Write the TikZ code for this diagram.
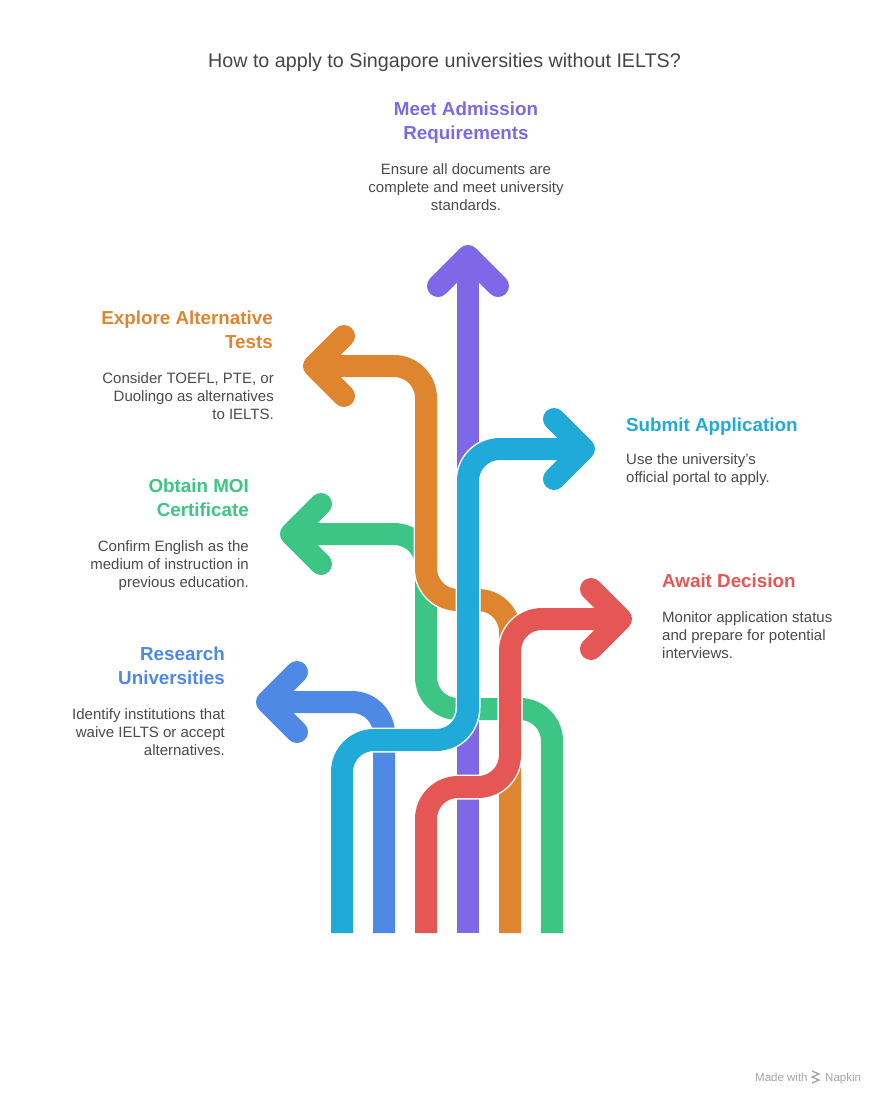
\documentclass[tikz,border=0pt]{standalone}
\usepackage{fontspec}
\setmainfont{Liberation Sans}
\usetikzlibrary{calc}

\definecolor{purp}{HTML}{7E68E8}
\definecolor{orng}{HTML}{DF8530}
\definecolor{grn}{HTML}{3CC584}
\definecolor{blu}{HTML}{4E89E5}
\definecolor{cyn}{HTML}{1FAADA}
\definecolor{rd}{HTML}{E45755}
\definecolor{ttl}{HTML}{454545}
\definecolor{txt}{HTML}{4A4A4A}

% one ribbon: white casing first, then the coloured band
\newcommand{\ribbon}[3]{%
  \draw[casing, rounded corners=32pt] #2;
  \draw[casing, line cap=round] #3;
  \draw[band, rounded corners=32pt, draw=#1] #2;
  \draw[band, line cap=round, draw=#1] #3;}

\begin{document}
\begin{tikzpicture}[x=1pt, y=-1pt,
    casing/.style={draw=white, line width=25pt, line cap=butt, line join=round},
    band/.style={line width=22pt, line cap=butt, line join=round},
    head/.style={inner sep=0pt, font=\fontsize{18.8}{24}\selectfont\bfseries},
    desc/.style={inner sep=0pt, text=txt, font=\fontsize{15}{18}\selectfont},
    credit/.style={inner sep=0pt, text=black!35, font=\fontsize{11.5}{14}\selectfont}]

    \useasboundingbox (0,0) rectangle (888,1104);

    % Title
    \node[inner sep=0pt, anchor=north, text=ttl, font=\fontsize{19.7}{24}\selectfont] (title) at (444.5,53) {How to apply to Singapore universities without IELTS?};

    % Lane bottoms and arrow tips
    \coordinate (cynB) at (342,933);
    \coordinate (bluB) at (384,933);
    \coordinate (rdB) at (426,933);
    \coordinate (purpB) at (468,933);
    \coordinate (orngB) at (510,933);
    \coordinate (grnB) at (552,933);
    \coordinate (purpT) at (468,256);
    \coordinate (orngT) at (314,366);
    \coordinate (grnT) at (291,534);
    \coordinate (bluT) at (267,702);
    \coordinate (cynT) at (584,449);
    \coordinate (rdT) at (621,619);

    % Ribbons, back to front
    \ribbon{purp}{(purpB) -- (purpT)}{($(purpT)+(-30,30)$) -- (purpT) -- ($(purpT)+(30,30)$)}
    \ribbon{grn}{(grnB) -- (552,709) -- (426,709) -- (426,534) -- (grnT)}{($(grnT)+(30,-30)$) -- (grnT) -- ($(grnT)+(30,30)$)}
    \ribbon{orng}{(orngB) -- (510,600) -- (426,600) -- (426,366) -- (orngT)}{($(orngT)+(30,-30)$) -- (orngT) -- ($(orngT)+(30,30)$)}
    \ribbon{blu}{(bluB) -- (384,702) -- (bluT)}{($(bluT)+(30,-30)$) -- (bluT) -- ($(bluT)+(30,30)$)}
    \ribbon{cyn}{(cynB) -- (342,740) -- (468,740) -- (468,449) -- (cynT)}{($(cynT)+(-30,-30)$) -- (cynT) -- ($(cynT)+(-30,30)$)}
    \ribbon{rd}{(rdB) -- (426,787) -- (510,787) -- (510,619) -- (rdT)}{($(rdT)+(-30,-30)$) -- (rdT) -- ($(rdT)+(-30,30)$)}

    % Meet Admission Requirements
    \node[head, text=purp, anchor=north, align=center] (meet) at (466,102) {Meet Admission\\Requirements};
    \node[desc, anchor=north, align=center] (meetd) at (466,163) {Ensure all documents are\\complete and meet university\\standards.};

    % Explore Alternative Tests
    \node[head, text=orng, anchor=north east, align=right] (tests) at (273,311) {Explore Alternative\\Tests};
    \node[desc, anchor=north east, align=right] (testsd) at (274,372) {Consider TOEFL, PTE, or\\Duolingo as alternatives\\to IELTS.};

    % Obtain MOI Certificate
    \node[head, text=grn, anchor=north east, align=right] (moi) at (249,479) {Obtain MOI\\Certificate};
    \node[desc, anchor=north east, align=right] (moid) at (249,540) {Confirm English as the\\medium of instruction in\\previous education.};

    % Research Universities
    \node[head, text=blu, anchor=north east, align=right] (research) at (225,647) {Research\\Universities};
    \node[desc, anchor=north east, align=right] (researchd) at (225,708) {Identify institutions that\\waive IELTS or accept\\alternatives.};

    % Submit Application
    \node[head, text=cyn, anchor=north west, align=left] (submit) at (626,418) {Submit Application};
    \node[desc, anchor=north west, align=left] (submitd) at (626,453) {Use the university's\\official portal to apply.};

    % Await Decision
    \node[head, text=rd, anchor=north west, align=left] (await) at (662,574) {Await Decision};
    \node[desc, anchor=north west, align=left] (awaitd) at (662,611) {Monitor application status\\and prepare for potential\\interviews.};

    % Credit
    \node[credit, anchor=base west] (made) at (755,1081) {Made with};
    \draw[black!35, line width=1.3pt] (812,1071) -- (819,1074) -- (812,1077) -- (819,1080) -- (812,1083);
    \node[credit, anchor=base west] (napkin) at (825,1081) {Napkin};
\end{tikzpicture}
\end{document}
